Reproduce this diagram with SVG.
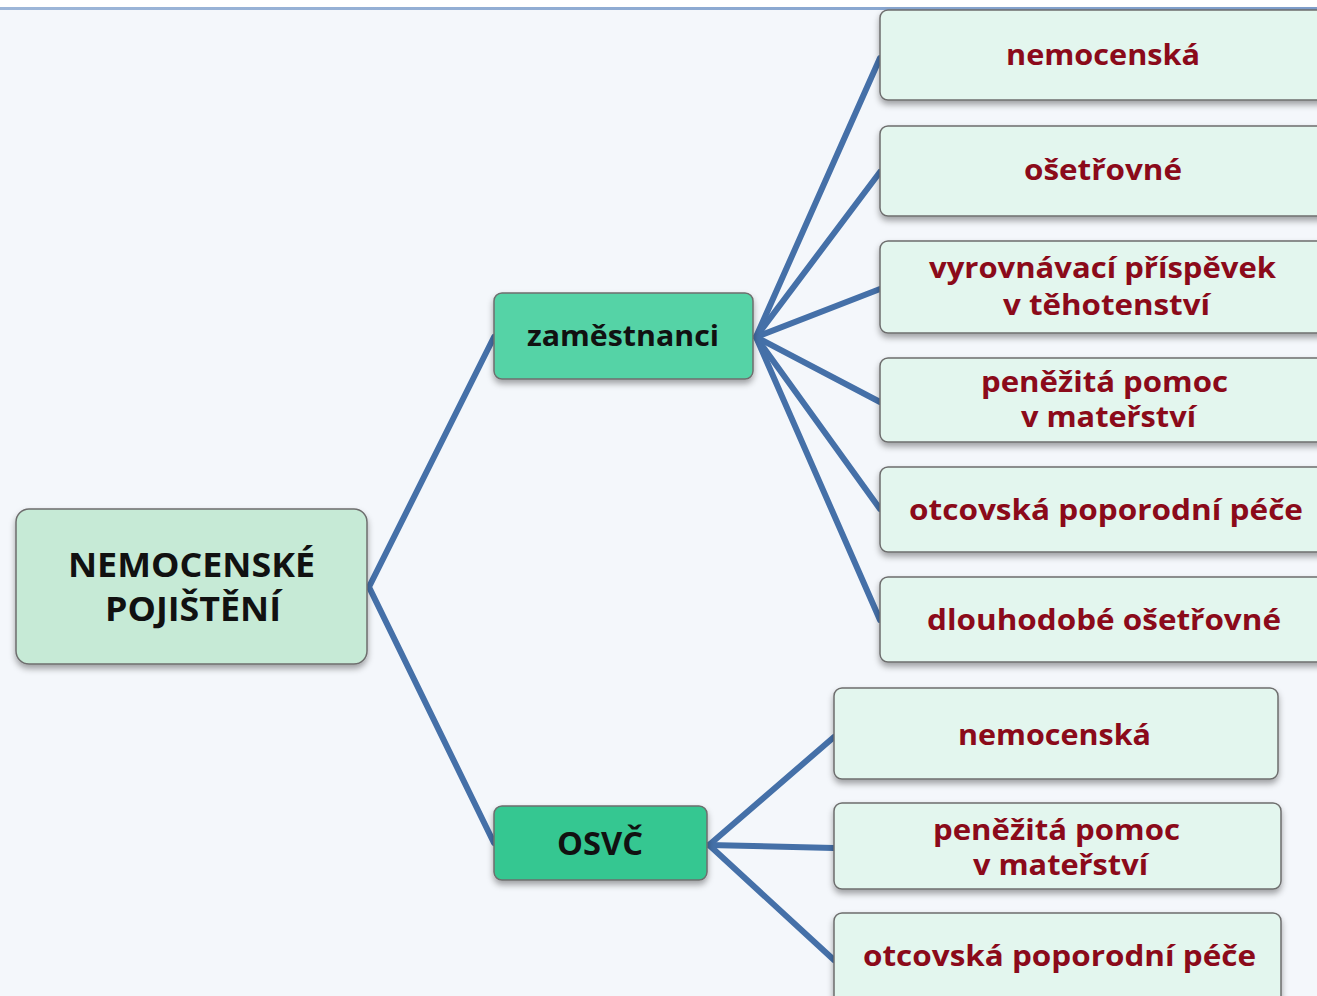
<svg xmlns="http://www.w3.org/2000/svg" width="1317" height="996" viewBox="0 0 1317 996">
<defs>
<filter id="sh" x="-10%" y="-10%" width="120%" height="130%">
<feDropShadow dx="0" dy="4" stdDeviation="3" flood-color="#000" flood-opacity="0.35"/>
</filter>
<linearGradient id="topline" x1="0" x2="1" y1="0" y2="0">
<stop offset="0" stop-color="#9db6d8"/><stop offset="1" stop-color="#7f9fcc"/>
</linearGradient>
</defs>
<style>
.box{stroke:#6e6e6e;stroke-width:1.5;filter:url(#sh)}
.leaf{fill:#e3f6ee}
.conn{stroke:#4570a8;stroke-width:6;fill:none;stroke-linecap:round}
.t{font-family:"Open Sans","Liberation Sans",sans-serif;font-weight:bold;text-anchor:middle}
.red{fill:#8b0a1a;font-size:29px}
.blk{fill:#111}
</style>
<rect x="0" y="0" width="1317" height="996" fill="#f4f7fb"/>
<rect x="0" y="0" width="1317" height="7" fill="#ffffff"/>
<rect x="0" y="7" width="1317" height="3" fill="url(#topline)"/>
<g id="connectors">
<polyline class="conn" points="494,337 369,587 494,843"/>
<line class="conn" x1="756" y1="337" x2="880" y2="58"/>
<line class="conn" x1="756" y1="337" x2="880" y2="172"/>
<line class="conn" x1="756" y1="337" x2="880" y2="289"/>
<line class="conn" x1="756" y1="337" x2="880" y2="402"/>
<line class="conn" x1="756" y1="337" x2="880" y2="509"/>
<line class="conn" x1="756" y1="337" x2="880" y2="620"/>
<line class="conn" x1="709" y1="845" x2="834" y2="737"/>
<line class="conn" x1="709" y1="845" x2="834" y2="848"/>
<line class="conn" x1="709" y1="845" x2="834" y2="960"/>
</g>
<g id="root">
<rect class="box" x="16" y="509" width="351" height="155" rx="13" fill="#c6ead6"/>
<text class="t blk" x="191.5" y="577" font-size="34" textLength="247" lengthAdjust="spacingAndGlyphs">NEMOCENSKÉ</text>
<text class="t blk" x="193" y="621" font-size="34" textLength="176" lengthAdjust="spacingAndGlyphs">POJIŠTĚNÍ</text>
</g>
<g id="zamestnanci">
<rect class="box" x="494" y="293" width="259" height="86" rx="8" fill="#55d3a6"/>
<text class="t blk" x="623" y="346" font-size="28" textLength="192" lengthAdjust="spacingAndGlyphs">zaměstnanci</text>
</g>
<g id="osvc">
<rect class="box" x="494" y="806" width="213" height="74" rx="8" fill="#36c791"/>
<text class="t blk" x="600" y="855" font-size="32" font-weight="600" textLength="86" lengthAdjust="spacingAndGlyphs">OSVČ</text>
</g>
<g id="z1">
<rect class="box leaf" x="880" y="10" width="450" height="90" rx="8"/>
<text class="t red" x="1103" y="65" textLength="194" lengthAdjust="spacingAndGlyphs">nemocenská</text>
</g>
<g id="z2">
<rect class="box leaf" x="880" y="126" width="450" height="90" rx="8"/>
<text class="t red" x="1103" y="180" textLength="158" lengthAdjust="spacingAndGlyphs">ošetřovné</text>
</g>
<g id="z3">
<rect class="box leaf" x="880" y="241" width="450" height="92" rx="8"/>
<text class="t red" x="1102.5" y="278" textLength="347" lengthAdjust="spacingAndGlyphs">vyrovnávací příspěvek</text>
<text class="t red" x="1106.5" y="315" textLength="207" lengthAdjust="spacingAndGlyphs">v těhotenství</text>
</g>
<g id="z4">
<rect class="box leaf" x="880" y="358" width="450" height="84" rx="8"/>
<text class="t red" x="1104.5" y="392" textLength="247" lengthAdjust="spacingAndGlyphs">peněžitá pomoc</text>
<text class="t red" x="1108.5" y="427" textLength="175" lengthAdjust="spacingAndGlyphs">v mateřství</text>
</g>
<g id="z5">
<rect class="box leaf" x="880" y="467" width="450" height="85" rx="8"/>
<text class="t red" x="1106" y="520" textLength="394" lengthAdjust="spacingAndGlyphs">otcovská poporodní péče</text>
</g>
<g id="z6">
<rect class="box leaf" x="880" y="577" width="450" height="85" rx="8"/>
<text class="t red" x="1104" y="630" textLength="354" lengthAdjust="spacingAndGlyphs">dlouhodobé ošetřovné</text>
</g>
<g id="o1">
<rect class="box leaf" x="834" y="688" width="444" height="91" rx="8"/>
<text class="t red" x="1054.5" y="745" textLength="193" lengthAdjust="spacingAndGlyphs">nemocenská</text>
</g>
<g id="o2">
<rect class="box leaf" x="834" y="803" width="447" height="86" rx="8"/>
<text class="t red" x="1056.5" y="840" textLength="247" lengthAdjust="spacingAndGlyphs">peněžitá pomoc</text>
<text class="t red" x="1060.5" y="875" textLength="175" lengthAdjust="spacingAndGlyphs">v mateřství</text>
</g>
<g id="o3">
<rect class="box leaf" x="834" y="913" width="447" height="100" rx="8"/>
<text class="t red" x="1059.5" y="966" textLength="393" lengthAdjust="spacingAndGlyphs">otcovská poporodní péče</text>
</g>
</svg>
